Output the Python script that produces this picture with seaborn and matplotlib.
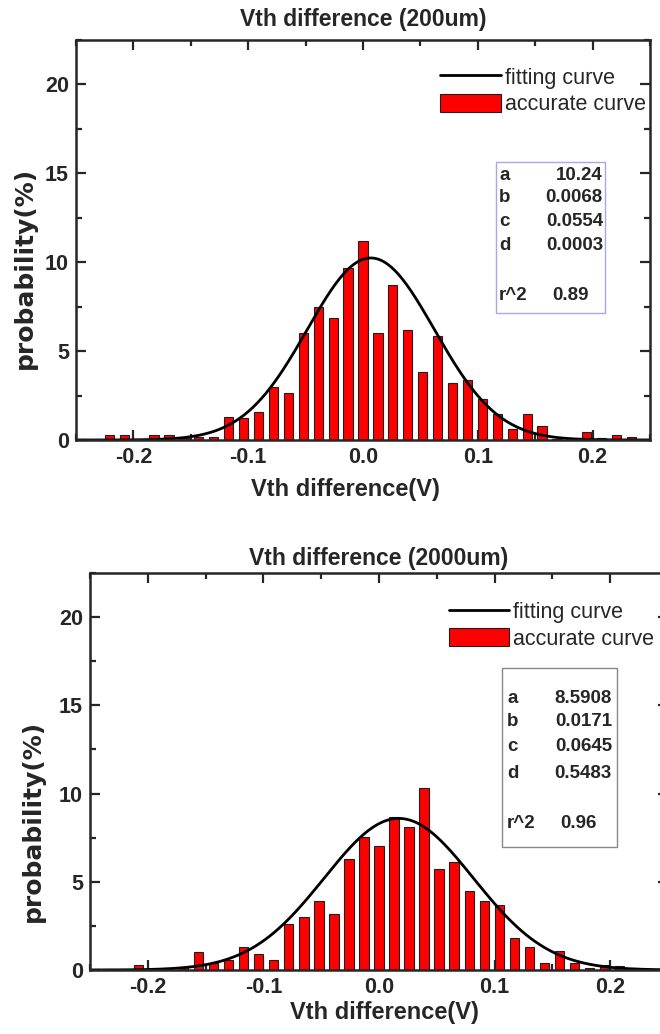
import numpy as np
import pandas as pd
import matplotlib
matplotlib.use("Agg")
import matplotlib.pyplot as plt
import seaborn as sns
from matplotlib.ticker import MultipleLocator, FuncFormatter
from matplotlib.patches import Patch, Rectangle
from matplotlib.lines import Line2D

sns.set_style("ticks")
plt.rcParams["font.family"] = ["Liberation Sans", "DejaVu Sans"]

# bin centres (V), same grid for both panels
centers = [-0.234, -0.221, -0.208, -0.195, -0.182, -0.169, -0.156, -0.143, -0.130,
           -0.117, -0.104, -0.091, -0.078, -0.065, -0.052, -0.039, -0.026, -0.013,
           0.000, 0.013, 0.026, 0.039, 0.052, 0.065, 0.078, 0.091, 0.104, 0.117,
           0.130, 0.143, 0.156, 0.169, 0.182, 0.195, 0.208, 0.221, 0.234]

# probability (%) per bin, 200um
prob_200 = [0.0, 0.3, 0.3, 0.0, 0.3, 0.3, 0.1, 0.15, 0.15,
            1.3, 1.25, 1.6, 3.0, 2.65, 6.0, 7.5, 6.85, 9.7,
            11.2, 6.0, 8.7, 6.2, 3.85, 5.85, 3.2, 3.35, 2.3, 1.45,
            0.6, 1.45, 0.8, 0.05, 0.05, 0.45, 0.1, 0.3, 0.15]

# probability (%) per bin, 2000um
prob_2000 = [0.05, 0.05, 0.3, 0.05, 0.1, 0.15, 1.0, 0.4, 0.57,
             1.3, 0.9, 0.57, 2.6, 3.0, 3.9, 3.2, 6.3, 7.55,
             7.05, 8.65, 8.1, 10.3, 5.7, 6.1, 4.45, 3.9, 3.7, 1.8,
             1.3, 0.4, 1.1, 0.4, 0.1, 0.3, 0.2, 0.1, 0.05]

# fit parameters a, b, c, d and r^2
fit_200 = [10.24, 0.0068, 0.0554, 0.0003]
fit_2000 = [8.5908, 0.0171, 0.0645, 0.5483]
fit_200_txt = ["10.24", "0.0068", "0.0554", "0.0003"]
fit_2000_txt = ["8.5908", "0.0171", "0.0645", "0.5483"]
r2_200 = "0.89"
r2_2000 = "0.96"

step = 0.013


def gauss(x, a, b, c):
    return a * np.exp(-(x - b) ** 2 / (2 * c ** 2))


def panel(fig, rect, probs, fit, fit_txt, r2, title, title_pad, box_rect, box_color,
          rows_y, lab_x, val_x, r2_x, leg_anchor, ylab_xy, xlab_xy):
    ax = fig.add_axes(rect)
    cen = np.array(centers)
    edges = list(np.append(cen - step / 2, cen[-1] + step / 2))
    df = pd.DataFrame({"v": cen, "p": probs})
    sns.histplot(data=df, x="v", weights="p", bins=edges, shrink=0.62, ax=ax,
                 color="#ff0000", edgecolor="#202020", linewidth=0.8, alpha=1)
    xs = np.linspace(-0.25, 0.25, 400)
    sns.lineplot(x=xs, y=gauss(xs, fit[0], fit[1], fit[2]), ax=ax,
                 color="black", linewidth=2.0)

    ax.set_xlim(-0.25, 0.25)
    ax.set_ylim(0, 22.5)
    ax.xaxis.set_major_locator(MultipleLocator(0.1))
    ax.xaxis.set_minor_locator(MultipleLocator(0.05))
    ax.yaxis.set_major_locator(MultipleLocator(5))
    ax.yaxis.set_minor_locator(MultipleLocator(2.5))
    ax.xaxis.set_major_formatter(FuncFormatter(lambda v, p: f"{v:.1f}"))
    ax.tick_params(which="both", direction="in", top=True, right=True, width=1.6)
    ax.tick_params(which="major", length=7, labelsize=15.5, pad=5)
    ax.tick_params(which="minor", length=4)
    for lab in ax.get_xticklabels() + ax.get_yticklabels():
        lab.set_fontweight("bold")
    for s in ax.spines.values():
        s.set_linewidth(1.8)
    ax.set_title(title, fontsize=16.5, fontweight="bold", pad=title_pad)
    ax.set_xlabel("Vth difference(V)", fontsize=17, fontweight="bold")
    ax.set_ylabel("probability(%)", fontsize=18, fontweight="bold",
                  family=["DejaVu Sans"])
    ax.yaxis.set_label_coords(*ylab_xy)
    ax.xaxis.set_label_coords(*xlab_xy)

    handles = [Line2D([], [], color="black", linewidth=2.0),
               Patch(facecolor="#ff0000", edgecolor="#202020", linewidth=0.8)]
    ax.legend(handles, ["fitting curve", "accurate curve"], loc="upper right",
              bbox_to_anchor=leg_anchor, frameon=False, fontsize=15.5,
              handlelength=2.8, handleheight=0.9, handletextpad=0.2,
              labelspacing=0.25, borderaxespad=0, borderpad=0)

    ax.add_patch(Rectangle((box_rect[0], box_rect[1]), box_rect[2], box_rect[3],
                           transform=ax.transAxes, fill=False,
                           edgecolor=box_color, linewidth=1.0))
    for name, val, y in zip(["a", "b", "c", "d"], fit_txt, rows_y[:4]):
        ax.text(lab_x, y, name, transform=ax.transAxes, fontsize=13.5,
                fontweight="bold", va="center", ha="left")
        ax.text(val_x, y, val, transform=ax.transAxes, fontsize=13.5,
                fontweight="bold", va="center", ha="right")
    ax.text(lab_x, rows_y[4], "r^2", transform=ax.transAxes, fontsize=13.5,
            fontweight="bold", va="center", ha="left")
    ax.text(r2_x, rows_y[4], r2, transform=ax.transAxes, fontsize=13.5,
            fontweight="bold", va="center", ha="left")
    return ax


fig = plt.figure(figsize=(6.6, 10.34), dpi=100)
fig.patch.set_facecolor("white")

panel(fig, [76 / 660, 1 - 440 / 1034, 574 / 660, 400 / 1034],
      prob_200, fit_200, fit_200_txt, r2_200, "Vth difference (200um)", 10,
      (0.732, 0.3175, 0.19, 0.3775), "#a8a8e8",
      [0.6625, 0.605, 0.545, 0.485, 0.3625], 0.737, 0.918, 0.83,
      (0.993, 0.932), (-0.068, 0.43), (0.47, -0.095))

panel(fig, [90 / 660, 1 - 970 / 1034, 578 / 660, 397 / 1034],
      prob_2000, fit_2000, fit_2000_txt, r2_2000, "Vth difference (2000um)", 6,
      (0.713, 0.310, 0.199, 0.451), "#888888",
      [0.685, 0.625, 0.562, 0.496, 0.370], 0.7215, 0.903, 0.813,
      (0.976, 0.928), (-0.078, 0.375), (0.51, -0.078))

fig.savefig("out.png", dpi=100)
